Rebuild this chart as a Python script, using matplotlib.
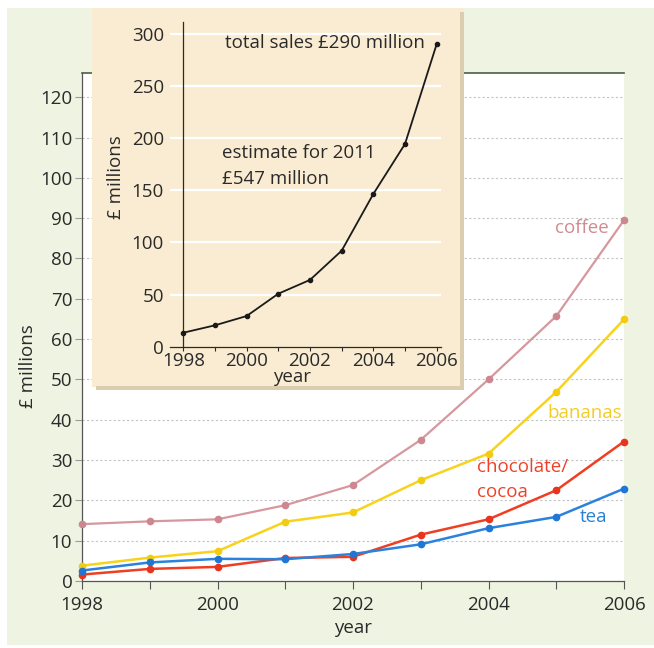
import matplotlib
matplotlib.use("Agg")
import matplotlib.pyplot as plt
from matplotlib.patches import Rectangle

plt.rcParams['font.family'] = ['Open Sans', 'DejaVu Sans']

# ---- data ----
years = [1998, 1999, 2000, 2001, 2002, 2003, 2004, 2005, 2006]
coffee = [14.1, 14.8, 15.3, 18.8, 23.8, 35.0, 50.0, 65.7, 89.5]
bananas = [3.8, 5.8, 7.4, 14.7, 17.0, 25.0, 31.6, 46.9, 64.9]
chocolate = [1.6, 3.0, 3.5, 5.7, 6.0, 11.5, 15.3, 22.5, 34.6]
tea = [2.6, 4.6, 5.5, 5.4, 6.7, 9.1, 13.1, 15.9, 22.9]
total_sales = [13.4, 20.5, 29.4, 50.8, 64, 92, 146.4, 194.3, 290]

main_yticks = [0, 10, 20, 30, 40, 50, 60, 70, 80, 90, 100, 110, 120]
inset_yticks = [0, 50, 100, 150, 200, 250, 300]
xtick_labels = [1998, 2000, 2002, 2004, 2006]

W, H = 654, 648
FS = 13.5
INK = '#2a2a2a'
fig = plt.figure(figsize=(W / 100, H / 100), dpi=100)
fig.patch.set_facecolor('white')


def box(x0, y0, x1, y1):
    return [x0 / W, 1 - y1 / H, (x1 - x0) / W, (y1 - y0) / H]


def ftxt(x, y, s, **kw):
    fig.text(x / W, 1 - y / H, s, **kw)


# page background
fig.patches.append(Rectangle((7 / W, 1 - 645 / H), (654 - 7) / W, (645 - 8) / H,
                             transform=fig.transFigure, facecolor='#eef4e1',
                             edgecolor='none', zorder=-10))

# ---- main chart ----
ax = fig.add_axes(box(82, 73, 624, 581))
ax.set_zorder(0)
ax.set_facecolor('white')
ax.set_xlim(1998, 2006)
ax.set_ylim(0, 126)

series = [
    (coffee, '#d6979e', '#cc8790', 1.6),
    (bananas, '#f7d31c', '#f2cc10', 1.8),
    (chocolate, '#f03e22', '#e8341c', 1.8),
    (tea, '#2b82dc', '#1f76d4', 1.8),
]
for vals, lc, mc, lw in series:
    ax.plot(years, vals, color=lc, lw=lw, marker='o', ms=4.5,
            mfc=mc, mec=mc, zorder=3, clip_on=False)

ax.set_yticks(main_yticks)
ax.set_xticks(years)
ax.set_xticklabels([str(y) if y in xtick_labels else '' for y in years])
ax.tick_params(axis='y', length=5, width=0.8, color='#9a9a9a', labelsize=FS,
               pad=2, labelcolor=INK)
ax.tick_params(axis='x', length=6, width=0.8, color='#555555', labelsize=FS,
               pad=5, labelcolor=INK)
for yv in main_yticks[1:]:
    ax.axhline(yv, color='#c4c4c4', lw=0.8, ls=(0, (2, 2)), zorder=1)
ax.spines['right'].set_visible(False)
ax.spines['top'].set_color('#4d5e45')
ax.spines['top'].set_linewidth(1.2)
ax.spines['left'].set_color('#555555')
ax.spines['left'].set_linewidth(0.9)
ax.spines['bottom'].set_color('#555555')
ax.spines['bottom'].set_linewidth(0.9)

ftxt(353, 628, 'year', ha='center', va='center', fontsize=FS, color=INK)
ftxt(28, 366, '£ millions', ha='center', va='center', rotation=90,
     fontsize=FS, color=INK)

ftxt(582, 228, 'coffee', ha='center', va='center', fontsize=FS, color='#d08b90')
ftxt(585, 413, 'bananas', ha='center', va='center', fontsize=FS, color='#f3cd25')
ftxt(477, 467, 'chocolate/', ha='left', va='center', fontsize=FS, color='#ee4128')
ftxt(477, 492, 'cocoa', ha='left', va='center', fontsize=FS, color='#ee4128')
ftxt(593, 517, 'tea', ha='center', va='center', fontsize=FS, color='#2a80d4')

# ---- inset panel ----
fig.patches.append(Rectangle((92 / W, 1 - 387 / H), (463 - 92) / W, (387 - 8) / H,
                             transform=fig.transFigure, facecolor='#faecd2',
                             edgecolor='none', zorder=1))
# shadow edges
fig.patches.append(Rectangle((460 / W, 1 - 389 / H), 4 / W, (389 - 12) / H,
                             transform=fig.transFigure, facecolor='#dccdb0',
                             edgecolor='none', zorder=1))
fig.patches.append(Rectangle((96 / W, 1 - 390 / H), (464 - 96) / W, 4 / H,
                             transform=fig.transFigure, facecolor='#dccdb0',
                             edgecolor='none', zorder=1))

px_per_year = 31.67
x0 = 1998 + (170 - 183.3) / px_per_year
x1 = 1998 + (441 - 183.3) / px_per_year
ins = fig.add_axes(box(170, 21.7, 441, 346.7))
ins.set_zorder(2)
ins.patch.set_alpha(0)
ins.set_xlim(x0, x1)
ins.set_ylim(0, 311.5)
for yv in inset_yticks[1:]:
    ins.axhline(yv, color='white', lw=1.6, zorder=1)
ins.plot(years, total_sales, color='#1a1a1a', lw=1.3, marker='o', ms=3,
         zorder=3, clip_on=False)
ins.spines['left'].set_position(('data', 1998))
ins.spines['top'].set_visible(False)
ins.spines['right'].set_visible(False)
for s in ('left', 'bottom'):
    ins.spines[s].set_color(INK)
    ins.spines[s].set_linewidth(0.9)
ins.set_yticks(inset_yticks)
ins.set_xticks(years)
ins.set_xticklabels([str(y) if y in xtick_labels else '' for y in years])
ins.tick_params(axis='y', length=0, pad=14, labelsize=FS, labelcolor=INK)
ins.tick_params(axis='x', length=3, width=0.8, pad=0.5, labelsize=FS,
                color=INK, labelcolor=INK)

ftxt(292, 377, 'year', ha='center', va='center', fontsize=FS, color=INK)
ftxt(116, 177, '£ millions', ha='center', va='center', rotation=90,
     fontsize=FS, color=INK)
ftxt(225, 43, 'total sales £290 million', ha='left', va='center',
     fontsize=FS, color=INK)
ftxt(222, 153, 'estimate for 2011', ha='left', va='center',
     fontsize=FS, color=INK)
ftxt(222, 179, '£547 million', ha='left', va='center',
     fontsize=FS, color=INK)

fig.savefig('out.png', dpi=100)
